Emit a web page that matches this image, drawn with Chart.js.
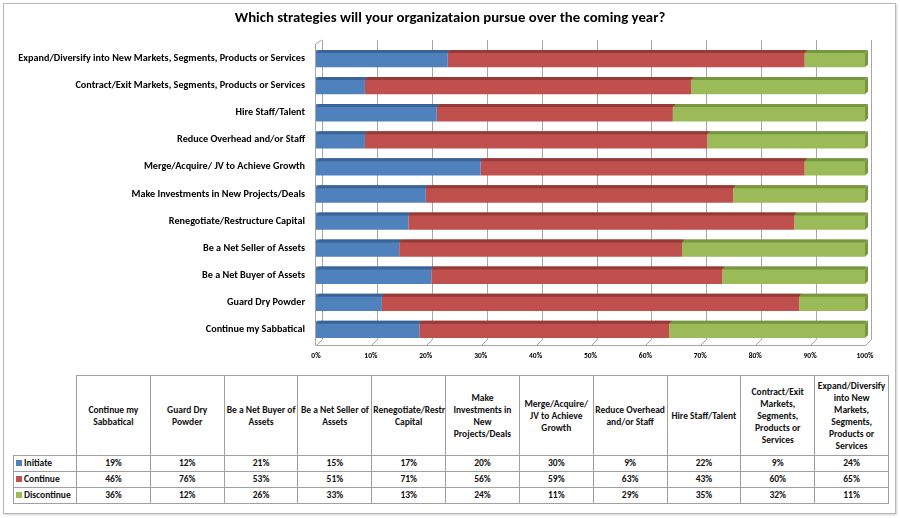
<!DOCTYPE html>
<html>
<head>
<meta charset="utf-8">
<script src="https://cdn.jsdelivr.net/npm/chart.js@4/dist/chart.umd.min.js"></script>
<style>
    body { margin: 0; width: 900px; height: 518px; background: #fff; position: relative; overflow: hidden;
        font-family: Carlito, Calibri, "Open Sans", sans-serif; }
    .frame { position: absolute; left: 3px; top: 3px; width: 891px; height: 509px; border: 1px solid #b8b8b8; box-shadow: 1px 1px 2px #d0d0d0; }
    #title { position: absolute; left: 0; top: 8px; width: 900px; text-align: center; font-weight: bold; font-size: 14.8px; line-height: 18px; color: #000; }
    #wrap { position: absolute; left: 0; top: 0; width: 900px; height: 372px; }
    table { position: absolute; left: 13px; top: 375px; width: 876px; border-collapse: collapse; table-layout: fixed;
        font-weight: bold; font-size: 9.5px; color: #111; }
    td { border: 1px solid #a0a0a0; text-align: center; padding: 0 1px; line-height: 12px; overflow: hidden; }
    tr.head td { height: 79px; }
    tr.row td { height: 15px; line-height: 15px; }
    td.corner { border-top: none; border-left: none; }
    td.name { text-align: left; padding-left: 2px; white-space: nowrap; }
    .sw { display: inline-block; width: 6px; height: 6px; margin-right: 2px; vertical-align: 0; }
</style>
</head>
<body>
<div class="frame"></div>
<div id="wrap"><canvas id="chart"></canvas></div>
<div id="title"></div>
<table id="grid"></table>
<script>
    const title = "Which strategies will your organizataion pursue over the coming year?";

    const categories = [
        "Continue my Sabbatical",
        "Guard Dry Powder",
        "Be a Net Buyer of Assets",
        "Be a Net Seller of Assets",
        "Renegotiate/Restructure Capital",
        "Make Investments in New Projects/Deals",
        "Merge/Acquire/ JV to Achieve Growth",
        "Reduce Overhead and/or Staff",
        "Hire Staff/Talent",
        "Contract/Exit Markets, Segments, Products or Services",
        "Expand/Diversify into New Markets, Segments, Products or Services"
    ];

    const initiate = [19, 12, 21, 15, 17, 20, 30, 9, 22, 9, 24];
    const continuing = [46, 76, 53, 51, 71, 56, 59, 63, 43, 60, 65];
    const discontinue = [36, 12, 26, 33, 13, 24, 11, 29, 35, 32, 11];

    const seriesNames = ["Initiate", "Continue", "Discontinue"];
    const tickLabels = ["0%", "10%", "20%", "30%", "40%", "50%", "60%", "70%", "80%", "90%", "100%"];

    const font = "Carlito, Calibri, 'Open Sans', sans-serif";
    const palette = {
        fill: ["#4f81bd", "#c0504d", "#9bbb59"],
        shade: ["#3a6496", "#963a38", "#76963f"],
        grid: "#a6a6a6",
        ink: "#000"
    };

    const seriesValues = [initiate, continuing, discontinue];
    const totals = categories.map((_, i) => initiate[i] + continuing[i] + discontinue[i]);

    // 100% stacked: each bar is scaled to its own row total
    const datasets = seriesValues.map((values, s) => ({
        label: seriesNames[s],
        data: values.map((v, i) => v / totals[i] * 100),
        backgroundColor: palette.fill[s],
        borderWidth: 0,
        categoryPercentage: 0.64,
        barPercentage: 1
    }));

    const depth = 6;

    // back wall gridlines and floor, shifted up/right like the excel 3d chart
    const wall = {
        id: "wall",
        beforeDatasetsDraw(chart) {
            const ctx = chart.ctx;
            const a = chart.chartArea;
            const x = chart.scales.x;
            const bottom = Math.round(a.bottom) + 2.5;
            ctx.save();
            ctx.strokeStyle = palette.grid;
            ctx.lineWidth = 1;
            ctx.beginPath();
            x.ticks.forEach(t => {
                const px = Math.round(x.getPixelForValue(t.value)) + 0.5;
                ctx.moveTo(px + depth, a.top - depth + 1);
                ctx.lineTo(px + depth, bottom - depth);
                ctx.lineTo(px, bottom);
            });
            const left = Math.round(a.left) - 0.5;
            ctx.moveTo(left, a.top - 1);
            ctx.lineTo(left, bottom);
            ctx.lineTo(Math.round(a.right) + 0.5, bottom);
            ctx.lineTo(Math.round(a.right) + 0.5 + depth, bottom - depth);
            ctx.moveTo(left, a.top - 1);
            ctx.lineTo(left + depth, a.top - depth + 1);
            ctx.stroke();
            ctx.restore();
        }
    };

    // darker top face and a side face on the last segment
    const bevel = {
        id: "bevel",
        afterDatasetsDraw(chart) {
            const ctx = chart.ctx;
            const d = 3;
            const last = chart.data.datasets.length - 1;
            ctx.save();
            chart.data.datasets.forEach((ds, s) => {
                chart.getDatasetMeta(s).data.forEach(bar => {
                    const p = bar.getProps(["x", "y", "base", "height"], true);
                    const top = p.y - p.height / 2;
                    const bottom = p.y + p.height / 2;
                    ctx.fillStyle = palette.shade[s];
                    ctx.beginPath();
                    ctx.moveTo(p.base, top + d);
                    ctx.lineTo(p.x, top + d);
                    ctx.lineTo(p.x + d, top);
                    ctx.lineTo(p.base + d, top);
                    ctx.closePath();
                    ctx.fill();
                    if (s === last) {
                        ctx.beginPath();
                        ctx.moveTo(p.x, top + d);
                        ctx.lineTo(p.x + d, top);
                        ctx.lineTo(p.x + d, bottom - d);
                        ctx.lineTo(p.x, bottom);
                        ctx.closePath();
                        ctx.fill();
                    }
                });
            });
            ctx.restore();
        }
    };

    document.getElementById("title").textContent = title;

    new Chart(document.getElementById("chart"), {
        type: "bar",
        data: { labels: categories, datasets: datasets },
        options: {
            indexAxis: "y",
            responsive: true,
            maintainAspectRatio: false,
            animation: false,
            // top padding leaves room for the page title above the plot
            layout: { padding: { left: 0, right: 35, top: 45, bottom: 4 } },
            plugins: {
                legend: { display: false },
                tooltip: { enabled: false },
                title: { display: false }
            },
            scales: {
                x: {
                    stacked: true,
                    min: 0,
                    max: 100,
                    afterFit: scale => { scale.height = 25; },
                    grid: { display: false, drawTicks: false },
                    border: { display: false },
                    ticks: {
                        stepSize: 10,
                        padding: 9,
                        color: palette.ink,
                        font: { family: font, size: 7.5, weight: "bold" },
                        callback: (value, index) => tickLabels[index]
                    }
                },
                y: {
                    stacked: true,
                    reverse: true,
                    afterFit: scale => { scale.width = 316; },
                    grid: { display: false, drawTicks: false },
                    border: { display: false },
                    ticks: {
                        padding: 11,
                        color: palette.ink,
                        font: { family: font, size: 10.2, weight: "bold" }
                    }
                }
            }
        },
        plugins: [wall, bevel]
    });

    // data table under the chart
    function renderTable() {
        const table = document.getElementById("grid");
        let html = "<colgroup><col style='width:63px'>" + categories.map(() => "<col>").join("") + "</colgroup>";
        html += "<tr class='head'><td class='corner'></td>";
        categories.forEach(c => { html += `<td>${c}</td>`; });
        html += "</tr>";
        seriesValues.forEach((values, s) => {
            html += `<tr class='row'><td class='name'><span class='sw' style='background:${palette.fill[s]}'></span>${seriesNames[s]}</td>`;
            values.forEach(v => { html += `<td>${v}%</td>`; });
            html += "</tr>";
        });
        table.innerHTML = html;
    }

    renderTable();
</script>
</body>
</html>
